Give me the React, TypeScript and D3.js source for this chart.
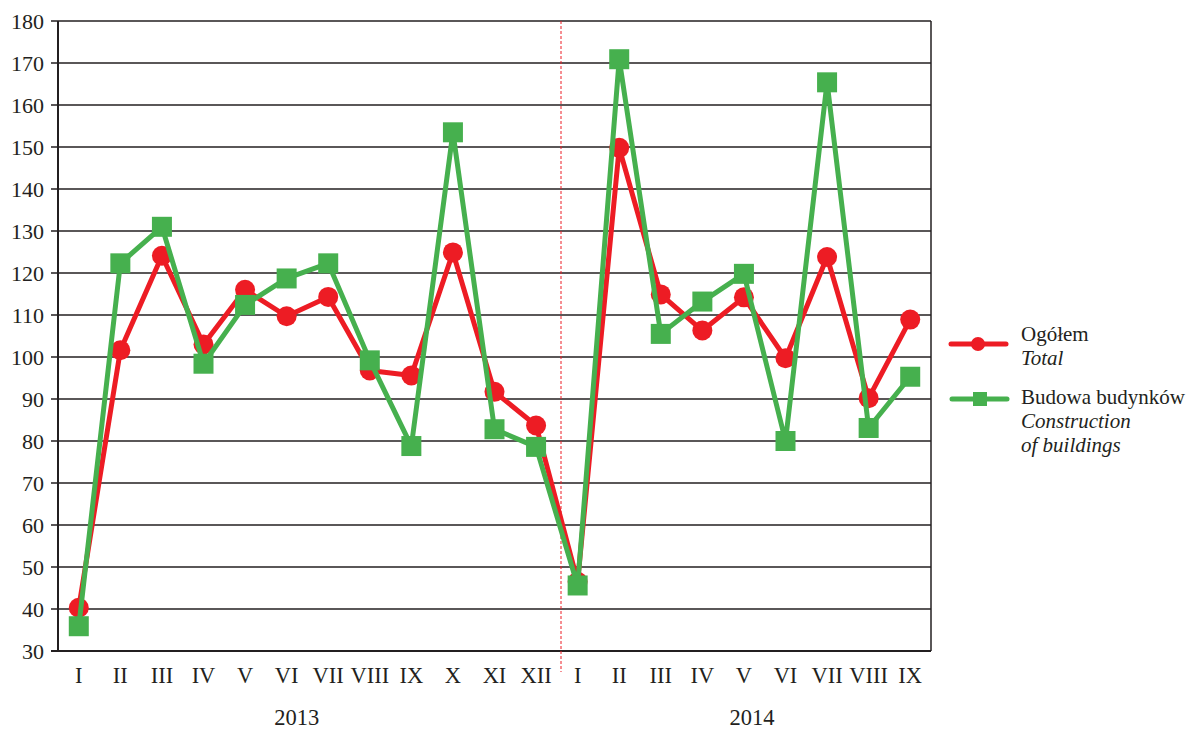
import * as d3 from 'd3';

const months = ['I', 'II', 'III', 'IV', 'V', 'VI', 'VII', 'VIII', 'IX', 'X', 'XI', 'XII',
  'I', 'II', 'III', 'IV', 'V', 'VI', 'VII', 'VIII', 'IX'];
const years = ['2013', '2014'];
const total = [40.3, 101.6, 124.1, 103.0, 116.0, 109.7, 114.3, 96.8, 95.6, 124.9, 91.7, 83.7,
  46.5, 149.8, 114.9, 106.3, 114.2, 99.7, 123.8, 90.2, 108.9];
const buildings = [35.9, 122.3, 131.0, 98.4, 112.4, 118.7, 122.3, 99.2, 78.8, 153.5, 82.8, 78.6,
  45.6, 170.9, 105.5, 113.2, 119.8, 80.0, 165.4, 83.1, 95.3];
const yTicks = d3.range(30, 181, 10);

const RED = '#ED1C24';
const GREEN = '#46B04E';
const INK = '#231F20';
const FONT = "'Liberation Serif', 'DejaVu Serif', serif";

export default function App() {
  const width = 1189;
  const height = 731;
  const left = 58;
  const right = 931;
  const top = 21;
  const bottom = 651;

  const idx = months.map((_, i) => i);
  const x = d3.scalePoint<number>().domain(idx).range([left, right]).padding(0.5);
  const y = d3.scaleLinear().domain([30, 180]).range([bottom, top]);
  const step = x.step();

  const line = d3.line<number>().x((_, i) => x(i)!).y(d => y(d));
  // the year divider sits a little right of the midpoint between XII and I
  const dividerX = x(12)! - step * 0.4;

  const T = (props: any) => <text fontFamily={FONT} fill={INK} fontSize={22.5} {...props} />;

  return (
    <svg width={width} height={height} style={{ position: 'absolute', left: 0, top: 0 }}>
      <rect width={width} height={height} fill="#fff" />
      {yTicks.map(t => (
        <g key={t}>
          <line x1={left - 7} x2={right} y1={y(t)} y2={y(t)} stroke={INK} strokeWidth={t === 30 ? 2.2 : 1.5} />
          <T x={left - 14} y={y(t)} dy="0.35em" textAnchor="end" fontSize={22}>{t}</T>
        </g>
      ))}
      <line x1={left} x2={left} y1={top} y2={bottom} stroke={INK} strokeWidth={2} />
      <line x1={right} x2={right} y1={top} y2={bottom} stroke={INK} strokeWidth={1.5} />
      <line x1={dividerX} x2={dividerX} y1={top} y2={bottom + 21} stroke={RED} strokeWidth={1} strokeDasharray="3,2" />

      {months.map((m, i) => (
        <T key={i} x={x(i)} y={bottom + 32} textAnchor="middle">{m}</T>
      ))}
      <T x={x(5)! + 10} y={bottom + 74} textAnchor="middle">{years[0]}</T>
      <T x={x(16)! + 8} y={bottom + 74} textAnchor="middle">{years[1]}</T>

      <path d={line(total)!} fill="none" stroke={RED} strokeWidth={5} strokeLinejoin="round" />
      {total.map((v, i) => (
        <circle key={i} cx={x(i)} cy={y(v)} r={10} fill={RED} />
      ))}
      <path d={line(buildings)!} fill="none" stroke={GREEN} strokeWidth={5} strokeLinejoin="round" />
      {buildings.map((v, i) => (
        <rect key={i} x={x(i)! - 10} y={y(v) - 10} width={20} height={20} fill={GREEN} />
      ))}

      <g>
        <line x1={951} x2={1006} y1={344} y2={344} stroke={RED} strokeWidth={5} strokeLinecap="round" />
        <circle cx={978} cy={344} r={7} fill={RED} />
        <T x={1021} y={341} fontSize={21}>Ogółem</T>
        <T x={1021} y={365} fontSize={21} fontStyle="italic">Total</T>

        <line x1={952} x2={1007} y1={399} y2={399} stroke={GREEN} strokeWidth={5} strokeLinecap="round" />
        <rect x={973} y={392} width={14} height={14} fill={GREEN} />
        <T x={1021} y={404} fontSize={21}>Budowa budynków</T>
        <T x={1021} y={428} fontSize={21} fontStyle="italic">Construction</T>
        <T x={1021} y={452} fontSize={21} fontStyle="italic">of buildings</T>
      </g>
    </svg>
  );
}
